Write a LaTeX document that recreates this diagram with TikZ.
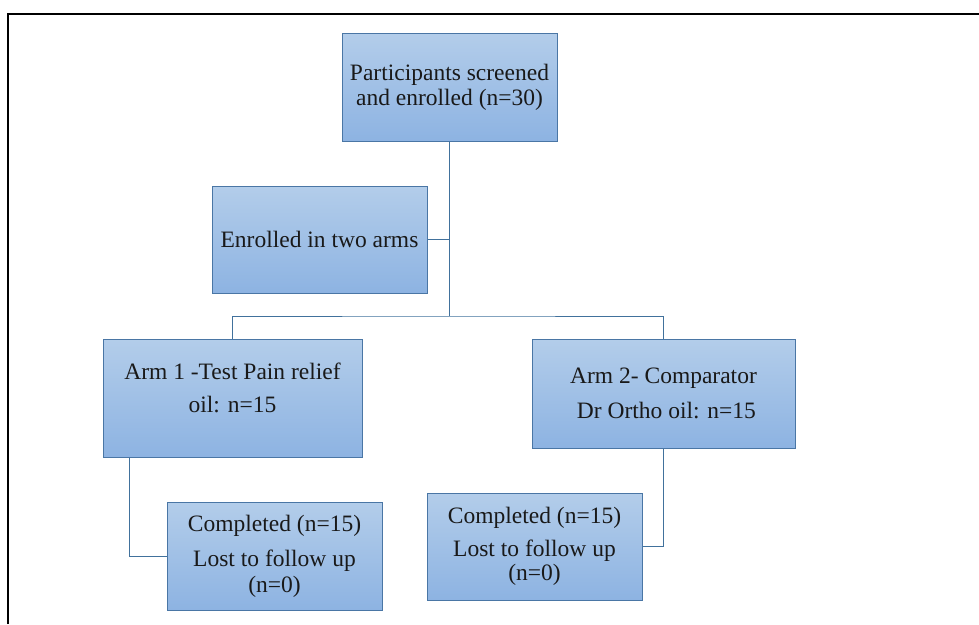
\documentclass[tikz,border=0pt]{standalone}
\usepackage{fontspec}
\setmainfont{Liberation Serif}
\definecolor{boxtop}{HTML}{B3CDEA}
\definecolor{boxbot}{HTML}{8DB3E2}
\definecolor{boxline}{HTML}{4A76A5}
\definecolor{conn}{HTML}{41719C}
\tikzset{
  flowbox/.style={draw=boxline, line width=1pt, top color=boxtop, bottom color=boxbot,
    inner sep=0pt, align=center, font=\fontsize{23.5}{24}\selectfont, text=black!90},
  link/.style={draw=conn, line width=1pt},
  frame/.style={draw=black, line width=1.4pt}
}
\begin{document}
\begin{tikzpicture}[x=1pt,y=-1pt]
\useasboundingbox (0,0) rectangle (979,624);
\draw[frame] (8,624) -- (8,14) -- (979,14);

\node[flowbox, minimum width=215pt, minimum height=108pt] (top) at (449.5,87)
  {Participants screened\\[1pt]and enrolled (n=30)};
\node[flowbox, minimum width=215pt, minimum height=107pt] (enr) at (319.5,239.5)
  {Enrolled in two arms};
\node[flowbox, minimum width=259pt, minimum height=118pt] (arm1) at (232.5,398)
  {Arm 1 -Test Pain relief\\[9pt]oil: n=15\\[-4pt]\mbox{}};
\node[flowbox, minimum width=263pt, minimum height=109pt] (arm2) at (663.5,393.5)
  {Arm 2- Comparator\\[11pt]\ Dr Ortho oil: n=15};
\node[flowbox, minimum width=215pt, minimum height=108pt] (cl) at (274.5,556)
  {Completed (n=15)\\[11pt]Lost to follow up\\[2pt](n=0)};
\node[flowbox, minimum width=215pt, minimum height=107pt] (cr) at (534.5,546.5)
  {Completed (n=15)\\[9pt]Lost to follow up\\[0pt](n=0)};

\coordinate (j) at (top.south |- 0,316);
\draw[link] (top.south) -- (j);
\draw[link] (enr.east) -- (enr.east -| top.south);
\draw[link] (arm1.north) |- (j) -| (arm2.north);
\draw[link] ([xshift=27pt]arm1.south west) |- (cl.west);
\draw[link] (arm2.south) |- (cr.east);
\end{tikzpicture}
\end{document}
